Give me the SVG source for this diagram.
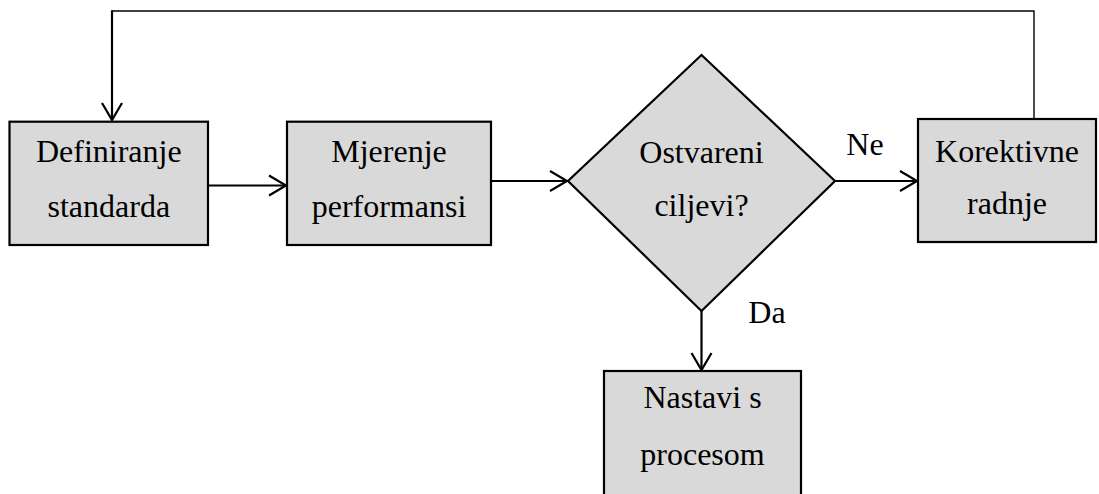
<svg xmlns="http://www.w3.org/2000/svg" width="1099" height="494" viewBox="0 0 1099 494">
<defs>
<marker id="arr" markerUnits="userSpaceOnUse" markerWidth="24" markerHeight="24" viewBox="-20 -12 24 24" refX="0" refY="0" orient="auto">
<path d="M-17,-10 L0,0 L-17,10" fill="none" stroke="#000" stroke-width="2.2"/>
</marker>
</defs>
<style>
.box{fill:#d9d9d9;stroke:#000;stroke-width:2.2}
text{font-family:'Liberation Serif','Times New Roman',serif;font-size:32px;fill:#000;text-anchor:middle}
.c{fill:none;stroke:#000;stroke-width:2.2}
.thin{fill:none;stroke:#000;stroke-width:1.4}
</style>
<rect width="1099" height="494" fill="#fff"/>
<g id="connectors">
<polyline class="thin" points="1034,119 1034,11 112,11"/>
<line class="c" x1="112" y1="10.3" x2="112" y2="120" marker-end="url(#arr)"/>
<line class="c" x1="208" y1="185.5" x2="286" y2="185.5" marker-end="url(#arr)"/>
<line class="c" x1="491" y1="181" x2="567" y2="181" marker-end="url(#arr)"/>
<line class="c" x1="835" y1="181" x2="917" y2="181" marker-end="url(#arr)"/>
<line class="c" x1="701.5" y1="311" x2="701.5" y2="370" marker-end="url(#arr)"/>
<text x="865" y="155">Ne</text>
<text x="767" y="323">Da</text>
</g>
<g id="definiranje">
<rect class="box" x="9.5" y="121.7" width="198.5" height="123.3"/>
<text x="108.8" y="161.7">Definiranje</text>
<text x="108.8" y="216.7">standarda</text>
</g>
<g id="mjerenje">
<rect class="box" x="287" y="121.7" width="204" height="123.3"/>
<text x="389" y="161.7">Mjerenje</text>
<text x="389" y="216.7">performansi</text>
</g>
<g id="odluka">
<polygon class="box" points="701.5,55 835,181 701.5,311 568,181"/>
<text x="701.5" y="163">Ostvareni</text>
<text x="701.5" y="216">ciljevi?</text>
</g>
<g id="korektivne">
<rect class="box" x="918" y="119" width="178" height="123"/>
<text x="1007" y="162">Korektivne</text>
<text x="1007" y="214">radnje</text>
</g>
<g id="nastavi">
<rect class="box" x="604" y="371" width="197" height="140"/>
<text x="702.5" y="408">Nastavi s</text>
<text x="702.5" y="465">procesom</text>
</g>
</svg>
